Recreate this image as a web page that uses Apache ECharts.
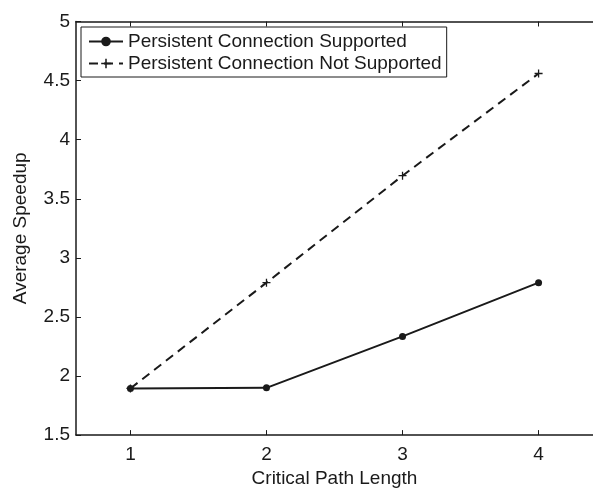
<!DOCTYPE html>
<html>
<head>
<meta charset="utf-8">
<script src="https://cdn.jsdelivr.net/npm/echarts@6/dist/echarts.min.js"></script>
<style>
  html, body { margin: 0; padding: 0; background: #fff; }
  #chart { width: 593px; height: 493px; }
</style>
</head>
<body>
<div id="chart"></div>
<script>
// Critical path length on the x axis
const pathLengths = [1, 2, 3, 4];
// Average speedup per path length
const speedupPersistent = [1.895, 1.9, 2.335, 2.79];
const speedupNoPersistent = [1.895, 2.79, 3.695, 4.56];
// Axis ticks
const xTicks = [1, 2, 3, 4];
const yMin = 1.5, yMax = 5, yStep = 0.5;

const seriesNames = ['Persistent Connection Supported', 'Persistent Connection Not Supported'];

const font = 'Liberation Sans, Arial, Helvetica, sans-serif';
const ink = '#1a1a1a';

function pairs(xs, ys) { return xs.map((x, i) => [x, ys[i]]); }

const plusSymbol = 'path://M0,4.2H10V5.8H0Z M4.2,0H5.8V10H4.2Z';

const chart = echarts.init(document.getElementById('chart'), null, { renderer: 'canvas' });

chart.setOption({
  animation: false,
  backgroundColor: '#fff',
  textStyle: { fontFamily: font, color: ink },
  grid: { left: 76, top: 21.5, right: -8.5, bottom: 56, containLabel: false },
  legend: {
    orient: 'vertical',
    left: 81,
    top: 27,
    width: 361,
    padding: [5, 5, 4, 7],
    itemGap: 3,
    itemWidth: 34,
    itemHeight: 12,
    borderColor: ink,
    borderWidth: 1,
    backgroundColor: '#fff',
    textStyle: { fontFamily: font, fontSize: 19, color: ink },
    data: seriesNames
  },
  xAxis: [
    {
      type: 'value',
      min: 0.6,
      max: 4.4,
      position: 'bottom',
      name: 'Critical Path Length',
      nameLocation: 'middle',
      nameGap: 30,
      nameTextStyle: { fontFamily: font, fontSize: 19, color: ink },
      axisLine: { show: true, lineStyle: { color: ink, width: 1.5 } },
      axisTick: { show: true, inside: true, length: 5, customValues: xTicks, lineStyle: { color: ink, width: 1 } },
      axisLabel: { show: true, customValues: xTicks, margin: 10, fontFamily: font, fontSize: 19, color: ink },
      splitLine: { show: false }
    },
    {
      type: 'value',
      min: 0.6,
      max: 4.4,
      position: 'top',
      axisLine: { show: true, lineStyle: { color: ink, width: 1.5 } },
      axisTick: { show: true, inside: true, length: 5, customValues: xTicks, lineStyle: { color: ink, width: 1 } },
      axisLabel: { show: false },
      splitLine: { show: false }
    }
  ],
  yAxis: {
    type: 'value',
    min: yMin,
    max: yMax,
    interval: yStep,
    name: 'Average Speedup',
    nameLocation: 'middle',
    nameGap: 46,
    nameRotate: 90,
    nameTextStyle: { fontFamily: font, fontSize: 19, color: ink },
    axisLine: { show: true, lineStyle: { color: ink, width: 1.5 } },
    axisTick: { show: true, inside: true, length: 5, lineStyle: { color: ink, width: 1 } },
    axisLabel: { margin: 6, fontFamily: font, fontSize: 19, color: ink },
    splitLine: { show: false }
  },
  series: [
    {
      name: seriesNames[0],
      type: 'line',
      data: pairs(pathLengths, speedupPersistent),
      symbol: 'circle',
      symbolSize: 7,
      showAllSymbol: true,
      itemStyle: { color: ink },
      lineStyle: { color: ink, width: 2 },
      z: 3
    },
    {
      name: seriesNames[1],
      type: 'line',
      data: pairs(pathLengths, speedupNoPersistent),
      symbol: plusSymbol,
      symbolSize: 8,
      showAllSymbol: true,
      itemStyle: { color: ink },
      lineStyle: { color: ink, width: 2, type: [9, 6] },
      z: 2
    }
  ]
});
</script>
</body>
</html>
